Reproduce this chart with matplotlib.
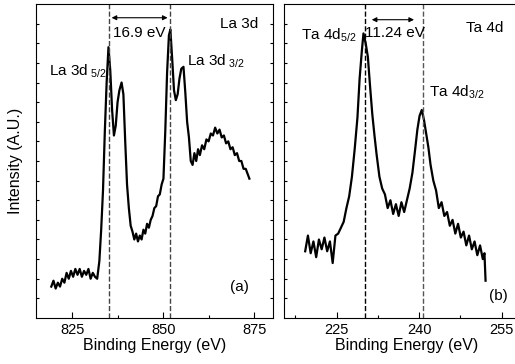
import matplotlib
matplotlib.use('Agg')
import matplotlib.pyplot as plt
import numpy as np

plt.rcParams['font.family'] = ['Liberation Sans', 'DejaVu Sans']

# La 3d spectrum (binding energy eV, intensity a.u.)
la_energy = [819.2, 819.8, 820.4, 821.0, 821.6, 822.2, 822.8, 823.4, 824.0, 824.6, 825.2,
             825.8, 826.4, 827.0, 827.6, 828.2, 828.8, 829.4, 830.0, 830.6, 831.2, 831.8,
             832.4, 832.9, 833.4, 833.9, 834.4, 834.9, 835.4, 835.9, 836.4, 836.9, 837.4,
             837.9, 838.5, 839.0, 839.5, 840.0, 840.5, 841.0, 841.5, 842.0, 842.5, 843.0,
             843.5, 844.0, 844.5, 845.0, 845.5, 846.0, 846.5, 847.0, 847.5, 848.0, 848.5,
             849.0, 849.5, 850.0, 850.5, 851.0, 851.5, 851.9, 852.4, 852.9, 853.4, 853.9,
             854.4, 854.9, 855.5, 856.0, 856.5, 857.0, 857.5, 858.0, 858.5, 859.0, 859.5,
             860.0, 860.6, 861.2, 861.8, 862.4, 863.0, 863.6, 864.2, 864.8, 865.4, 866.0,
             866.6, 867.2, 867.8, 868.4, 869.0, 869.6, 870.2, 870.8, 871.4, 872.0, 872.6,
             873.2, 873.6]
la_counts = [1.6, 1.9, 1.5, 1.8, 1.6, 2.0, 1.8, 2.3, 2.0, 2.4, 2.1,
             2.5, 2.2, 2.5, 2.1, 2.4, 2.2, 2.5, 2.0, 2.3, 2.1, 2.0,
             2.9, 4.5, 6.5, 9.5, 12.0, 13.8, 12.6, 10.6, 9.3, 9.8, 11.0,
             11.6, 12.0, 11.4, 9.0, 6.8, 5.6, 4.7, 4.4, 4.0, 4.3, 3.9,
             4.2, 4.0, 4.5, 4.3, 4.8, 4.6, 5.0, 5.2, 5.6, 5.7, 6.2,
             6.3, 6.8, 7.1, 9.5, 12.5, 14.4, 14.7, 13.2, 11.6, 11.1, 11.4,
             12.2, 12.7, 12.8, 11.5, 10.0, 9.2, 8.0, 7.8, 8.4, 8.0, 8.6,
             8.3, 8.8, 8.6, 9.1, 9.0, 9.4, 9.3, 9.7, 9.4, 9.6, 9.2,
             9.3, 8.9, 9.0, 8.6, 8.7, 8.3, 8.4, 8.0, 8.0, 7.6, 7.6,
             7.3, 7.1]

# Ta 4d spectrum
ta_energy = [219.3, 219.8, 220.3, 220.8, 221.3, 221.8, 222.3, 222.8, 223.3, 223.8, 224.3,
             224.8, 225.3, 225.8, 226.3, 226.8, 227.3, 227.8, 228.3, 228.8, 229.2, 229.6,
             229.9, 230.3, 230.7, 231.1, 231.5, 231.9, 232.3, 232.8, 233.3, 233.8, 234.3,
             234.8, 235.3, 235.8, 236.3, 236.8, 237.3, 237.8, 238.3, 238.8, 239.3, 239.7,
             240.1, 240.5, 240.9, 241.3, 241.7, 242.1, 242.6, 243.1, 243.6, 244.1, 244.6,
             245.1, 245.6, 246.1, 246.6, 247.1, 247.6, 248.1, 248.6, 249.1, 249.6, 250.1,
             250.6, 251.1, 251.6, 251.9, 252.1]
ta_counts = [3.4, 4.2, 3.3, 3.9, 3.1, 4.0, 3.5, 4.1, 3.4, 3.9, 2.8,
             4.2, 4.3, 4.6, 4.9, 5.6, 6.2, 7.2, 8.6, 10.2, 12.2, 13.6,
             14.5, 14.0, 13.3, 11.8, 10.4, 9.3, 8.3, 7.2, 6.6, 6.3, 5.6,
             6.0, 5.3, 5.8, 5.2, 5.9, 5.4, 6.0, 6.6, 7.4, 8.6, 9.6,
             10.3, 10.6, 10.1, 9.4, 8.7, 7.8, 7.0, 6.5, 5.6, 5.9, 5.2,
             5.4, 4.7, 5.0, 4.3, 4.8, 4.1, 4.4, 3.7, 4.2, 3.5, 3.9,
             3.2, 3.7, 3.0, 3.3, 1.9]

la_peaks = [835.0, 851.9]
ta_peaks = [230.1, 240.8]

fig = plt.figure(figsize=(5.15, 3.64), dpi=100)
ax1 = fig.add_axes([0.0699, 0.1264, 0.4596, 0.8626])
ax2 = fig.add_axes([0.552, 0.1264, 0.4752, 0.8626])

for ax in (ax1, ax2):
    ax.set_ylim(0, 16)
    ax.set_yticks(np.arange(1, 16))
    ax.set_yticklabels([])
    ax.tick_params(direction='in', which='both', labelsize=10.5, right=True)
    ax.tick_params(which='major', length=4, width=0.8)
    ax.tick_params(which='minor', length=2.5, width=0.8)
    ax.tick_params(axis='y', length=2.5)
    ax.set_xlabel('Binding Energy (eV)', fontsize=11.5, labelpad=1)

# panel (a)
ax1.plot(la_energy, la_counts, color='black', lw=1.6)
ax1.set_xlim(815, 880)
ax1.set_xticks([825, 850, 875])
ax1.set_xticks([837.5, 862.5], minor=True)
for p in la_peaks:
    ax1.axvline(p, color='#444444', ls='--', lw=1.0)
ax1.annotate('', xy=(la_peaks[0], 15.3), xytext=(la_peaks[1], 15.3),
             arrowprops=dict(arrowstyle='<|-|>', color='black', lw=0.8, mutation_scale=7))
ax1.text(843.4, 14.5, '16.9 eV', fontsize=11, ha='center', va='center')
ax1.text(876, 15.0, 'La 3d', fontsize=11, ha='right', va='center')
ax1.text(818.5, 12.6, 'La 3d$_{\\mathregular{\\ 5/2}}$', fontsize=11, ha='left', va='center')
ax1.text(856.5, 13.1, 'La 3d$_{\\mathregular{\\ 3/2}}$', fontsize=11, ha='left', va='center')
ax1.text(871, 1.6, '(a)', fontsize=11, ha='center', va='center')
ax1.set_ylabel('Intensity (A.U.)', fontsize=11.5, labelpad=6)

# panel (b)
ax2.plot(ta_energy, ta_counts, color='black', lw=1.6)
ax2.set_xlim(215.5, 260)
ax2.set_xticks([225, 240, 255])
ax2.set_xticks([217.5, 232.5, 247.5], minor=True)
ax2.axvline(ta_peaks[0], color='black', ls='--', lw=1.0)
ax2.axvline(ta_peaks[1], color='#555555', ls='--', lw=1.0)
ax2.annotate('', xy=(230.9, 15.2), xytext=(239.6, 15.2),
             arrowprops=dict(arrowstyle='<|-|>', color='black', lw=0.8, mutation_scale=7))
ax2.text(235.6, 14.5, '11.24 eV', fontsize=11, ha='center', va='center')
ax2.text(248.5, 14.8, 'Ta 4d', fontsize=11, ha='left', va='center')
ax2.text(218.5, 14.4, 'Ta 4d$_{\\mathregular{5/2}}$', fontsize=11, ha='left', va='center')
ax2.text(241.8, 11.5, 'Ta 4d$_{\\mathregular{3/2}}$', fontsize=11, ha='left', va='center')
ax2.text(254.4, 1.1, '(b)', fontsize=11, ha='center', va='center')

plt.savefig('out.png', dpi=100)
